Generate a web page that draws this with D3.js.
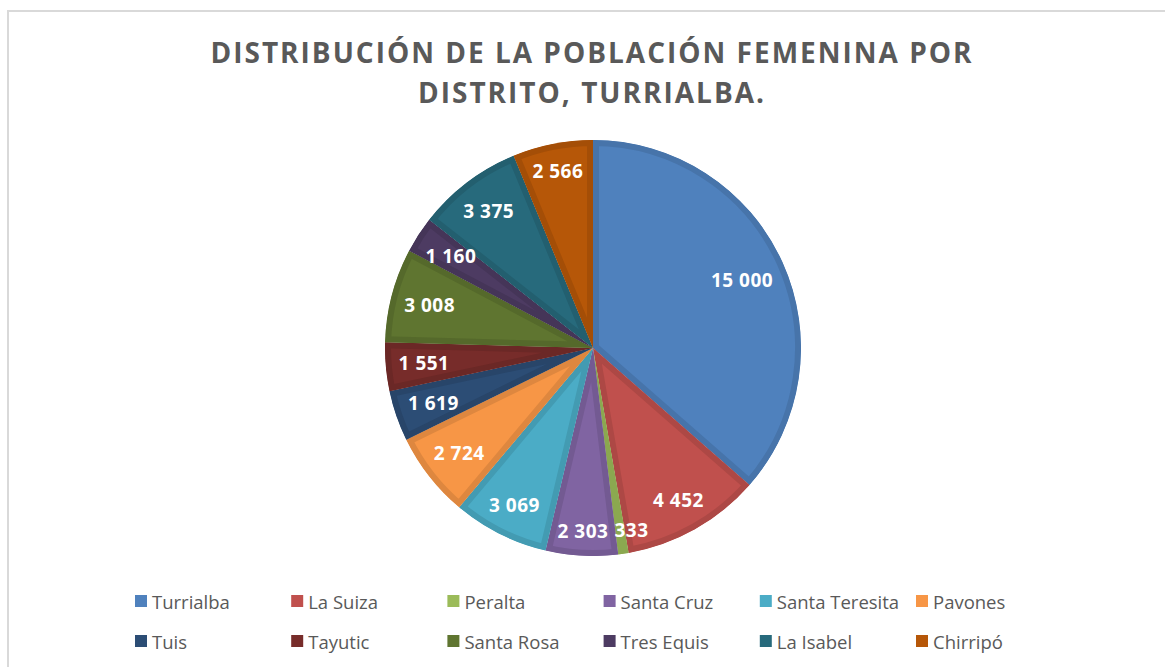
<!DOCTYPE html>
<html>
<head>
<meta charset="utf-8">
<script src="https://cdn.jsdelivr.net/npm/d3@7"></script>
<style>
  html, body { margin: 0; padding: 0; background: #fff; }
  svg { display: block; }
</style>
</head>
<body>
<svg id="chart" width="1165" height="667"></svg>
<script>
// ---- data ----
const titleLines = ["DISTRIBUCIÓN DE LA POBLACIÓN FEMENINA POR", "DISTRITO, TURRIALBA."];
const districts = ["Turrialba", "La Suiza", "Peralta", "Santa Cruz", "Santa Teresita", "Pavones",
                   "Tuis", "Tayutic", "Santa Rosa", "Tres Equis", "La Isabel", "Chirripó"];
const population = [15000, 4452, 333, 2303, 3069, 2724, 1619, 1551, 3008, 1160, 3375, 2566];
const sliceColors = ["#4F81BD", "#C0504D", "#9BBB59", "#8064A2", "#4BACC6", "#F79646",
                     "#2C4D75", "#772C2A", "#5F7530", "#4D3B62", "#276A7C", "#B65708"];

// ---- layout ----
const W = 1165, H = 667;
const cx = 593, cy = 348, R = 208;
const svg = d3.select("#chart");

// frame
svg.append("rect").attr("x", 8).attr("y", 11).attr("width", W + 20).attr("height", H + 20)
  .attr("fill", "#fff").attr("stroke", "#d9d9d9").attr("stroke-width", 2);

// title
const title = svg.append("g");
titleLines.forEach((t, i) => {
  title.append("text")
    .attr("x", 592).attr("y", 63 + i * 40)
    .attr("text-anchor", "middle")
    .attr("font-family", "'Open Sans', sans-serif")
    .attr("font-weight", 700)
    .attr("font-size", 28)
    .attr("letter-spacing", 2)
    .attr("fill", "#595959")
    .text(t);
});

// pie
const color = d3.scaleOrdinal().domain(districts).range(sliceColors);
const pie = d3.pie().sort(null).value(d => d.value).startAngle(0).endAngle(2 * Math.PI);
const data = districts.map((name, i) => ({ name, value: population[i] }));
const arcs = pie(data);
const arc = d3.arc().innerRadius(0).outerRadius(R);

const defs = svg.append("defs");
arcs.forEach((a, i) => {
  defs.append("clipPath").attr("id", "clip" + i)
    .append("path").attr("d", arc(a));
});

const slices = svg.append("g").attr("transform", `translate(${cx},${cy})`);
slices.selectAll("path.slice")
  .data(arcs)
  .join("path")
  .attr("class", "slice")
  .attr("d", arc)
  .attr("fill", d => color(d.data.name))
  .attr("stroke", d => d3.color(color(d.data.name)).darker(0.3))
  .attr("stroke-width", 12)
  .attr("stroke-linejoin", "miter")
  .attr("clip-path", (d, i) => `url(#clip${i})`);

// labels (placed largest first so small ones get nudged)
const fmt = d3.formatLocale({ decimal: ",", thousands: " ", grouping: [3], currency: ["", ""] }).format(",d");
const labels = svg.append("g");
const placed = [];
arcs.slice().sort((a, b) => b.value - a.value).forEach(a => {
  const t = labels.append("text")
    .attr("font-family", "'Open Sans', sans-serif")
    .attr("font-weight", 700)
    .attr("font-size", 19)
    .attr("letter-spacing", 0.5)
    .attr("fill", "#fff")
    .attr("text-anchor", "middle")
    .attr("dominant-baseline", "central")
    .text(fmt(a.data.value));
  const bb = t.node().getBBox();
  const w = bb.width / 2, h = 9.5;
  const ang = (a.startAngle + a.endAngle) / 2;
  const ux = Math.sin(ang), uy = -Math.cos(ang);
  const c = [Math.sign(ux) * w, Math.sign(uy) * h];
  const D = R - 12;
  const uc = ux * c[0] + uy * c[1];
  const cc = c[0] * c[0] + c[1] * c[1];
  const tt = -uc + Math.sqrt(uc * uc - cc + D * D);
  let x = cx + tt * ux, y = cy + tt * uy;
  placed.forEach(p => {
    const ox = (w + p.w + 6) - Math.abs(x - p.x);
    const oy = (h + p.h) - Math.abs(y - p.y);
    if (ox > 0 && oy > 0) x += (x >= p.x ? 1 : -1) * ox;
  });
  placed.push({ x, y, w, h });
  t.attr("x", x).attr("y", y);
});

// legend
const legend = svg.append("g");
const colX = d3.scaleLinear().domain([0, 5]).range([135, 916]);
districts.forEach((name, i) => {
  const col = i % 6, row = Math.floor(i / 6);
  const x = colX(col), y = 601 + row * 40;
  const item = legend.append("g").attr("transform", `translate(${x},${y})`);
  item.append("rect").attr("x", 0).attr("y", -6).attr("width", 12).attr("height", 12)
    .attr("fill", color(name));
  item.append("text").attr("x", 17).attr("y", 0)
    .attr("dominant-baseline", "central")
    .attr("font-family", "'Open Sans', sans-serif")
    .attr("font-size", 18.5)
    .attr("fill", "#595959")
    .text(name);
});
</script>
</body>
</html>
